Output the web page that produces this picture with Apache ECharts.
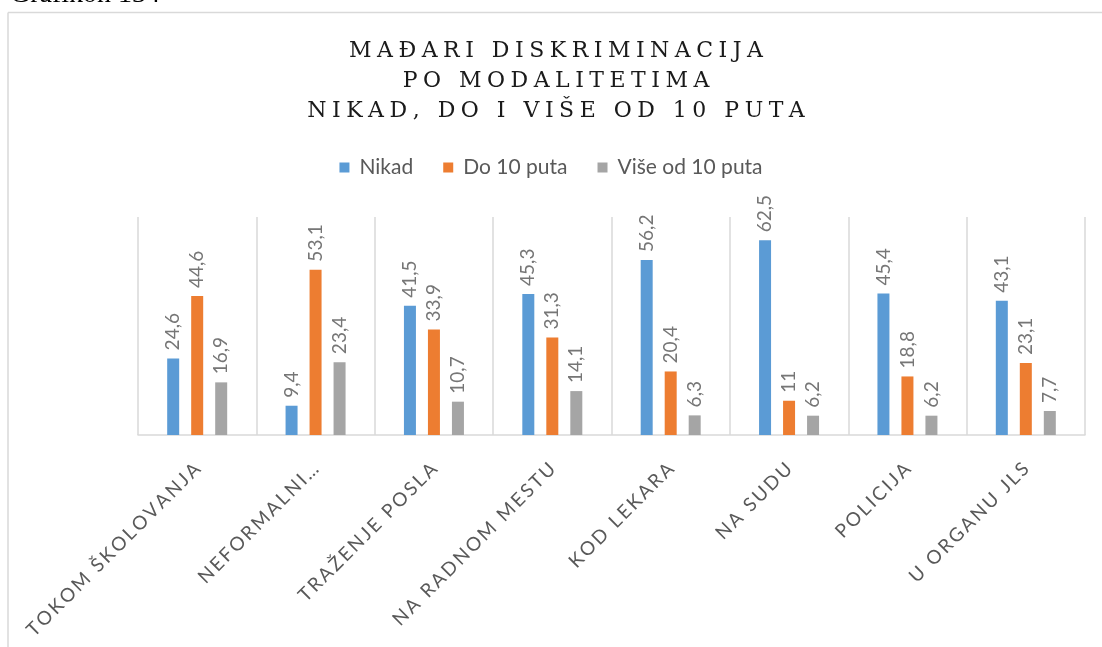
<!DOCTYPE html>
<html>
<head>
<meta charset="utf-8">
<script src="https://cdn.jsdelivr.net/npm/echarts@6/dist/echarts.min.js"></script>
<style>
  html, body { margin: 0; padding: 0; background: #ffffff; }
  #chart { width: 1102px; height: 647px; }
</style>
</head>
<body>
<div id="chart"></div>
<script>
// Categories (modaliteti) and the three frequency series, in percent
const categories = ['TOKOM ŠKOLOVANJA', 'NEFORMALNI…', 'TRAŽENJE POSLA', 'NA RADNOM MESTU',
                    'KOD LEKARA', 'NA SUDU', 'POLICIJA', 'U ORGANU JLS'];
const seriesNames = ['Nikad', 'Do 10 puta', 'Više od 10 puta'];
const nikad  = [24.6, 9.4, 41.5, 45.3, 56.2, 62.5, 45.4, 43.1];
const do10   = [44.6, 53.1, 33.9, 31.3, 20.4, 11, 18.8, 23.1];
const vise10 = [16.9, 23.4, 10.7, 14.1, 6.3, 6.2, 6.2, 7.7];
const titleLines = ['MAĐARI DISKRIMINACIJA', 'PO MODALITETIMA', 'NIKAD, DO I VIŠE OD 10 PUTA'];
const captionText = 'Grafikon 134';

const colors = ['#5B9BD5', '#ED7D31', '#A5A5A5'];
const BAR_W = 12;      // bar thickness in px
const BAR_STEP = 24;   // distance between neighbouring bars of one category

// widen the tracking of capitalised text with a given spacer between letters
function track(s, spacer) {
  return Array.from(s).join(spacer);
}
function decimalComma(v) {
  return String(v).replace('.', ',');
}

const chart = echarts.init(document.getElementById('chart'));

function barSeries(name, data, color) {
  return {
    name: name,
    type: 'bar',
    data: data,
    barWidth: BAR_W,
    barGap: '100%',
    itemStyle: { color: color }
  };
}

// vertical value labels standing on top of each bar (read bottom to top)
function labelSeries(idx, data) {
  const shift = (idx - 1) * BAR_STEP;
  return {
    name: seriesNames[idx] + ' (vrednosti)',
    type: 'custom',
    data: data.map((v, i) => [i, v]),
    encode: { x: 0, y: 1 },
    silent: true,
    z: 5,
    renderItem: function (params, api) {
      const pt = api.coord([api.value(0), api.value(1)]);
      return {
        type: 'text',
        x: pt[0] + shift,
        y: pt[1] - 8,
        rotation: Math.PI / 2,
        style: {
          text: decimalComma(api.value(1)),
          font: '19px Lato',
          fill: '#767676',
          align: 'left',
          verticalAlign: 'middle'
        }
      };
    }
  };
}

chart.setOption({
  animation: false,
  backgroundColor: '#ffffff',
  title: {
    text: titleLines.map(s => track(s, '\u2005')).join('\n'),
    left: 551,
    top: 31,
    textAlign: 'center',
    textStyle: {
      fontFamily: 'DejaVu Serif',
      fontWeight: 'normal',
      fontSize: 22,
      lineHeight: 30,
      color: '#1a1a1a'
    }
  },
  legend: {
    data: seriesNames,
    top: 152,
    left: 'center',
    icon: 'rect',
    itemWidth: 10,
    itemHeight: 10,
    itemGap: 30,
    textStyle: { fontFamily: 'Lato', fontSize: 21, color: '#595959', padding: [0, 0, 0, 5] }
  },
  grid: { left: 138, right: 17, top: 217, bottom: 212, containLabel: false, outerBoundsMode: 'none' },
  xAxis: {
    type: 'category',
    data: categories,
    axisTick: { show: false },
    axisLine: { lineStyle: { color: '#d9d9d9', width: 1.5 } },
    splitLine: { show: true, interval: 0, lineStyle: { color: '#d9d9d9', width: 1.5 } },
    axisLabel: {
      interval: 0,
      rotate: 45,
      margin: 31,
      fontFamily: 'Lato',
      fontSize: 19,
      color: '#595959',
      formatter: v => track(v, '\u2009')
    }
  },
  yAxis: {
    type: 'value',
    min: 0,
    max: 70,
    show: false,
    splitLine: { show: false }
  },
  series: [
    barSeries(seriesNames[0], nikad, colors[0]),
    barSeries(seriesNames[1], do10, colors[1]),
    barSeries(seriesNames[2], vise10, colors[2]),
    labelSeries(0, nikad),
    labelSeries(1, do10),
    labelSeries(2, vise10)
  ],
  graphic: [
    {
      type: 'text',
      left: 10,
      top: -19,
      style: { text: captionText, font: '28px "Liberation Serif"', fill: '#000000' }
    },
    {
      type: 'line',
      shape: { x1: 8, y1: 12.5, x2: 1102, y2: 12.5 },
      style: { stroke: '#d9d9d9', lineWidth: 1.5 }
    },
    {
      type: 'line',
      shape: { x1: 8, y1: 12.5, x2: 8, y2: 647 },
      style: { stroke: '#d9d9d9', lineWidth: 1.5 }
    }
  ]
});
</script>
</body>
</html>
